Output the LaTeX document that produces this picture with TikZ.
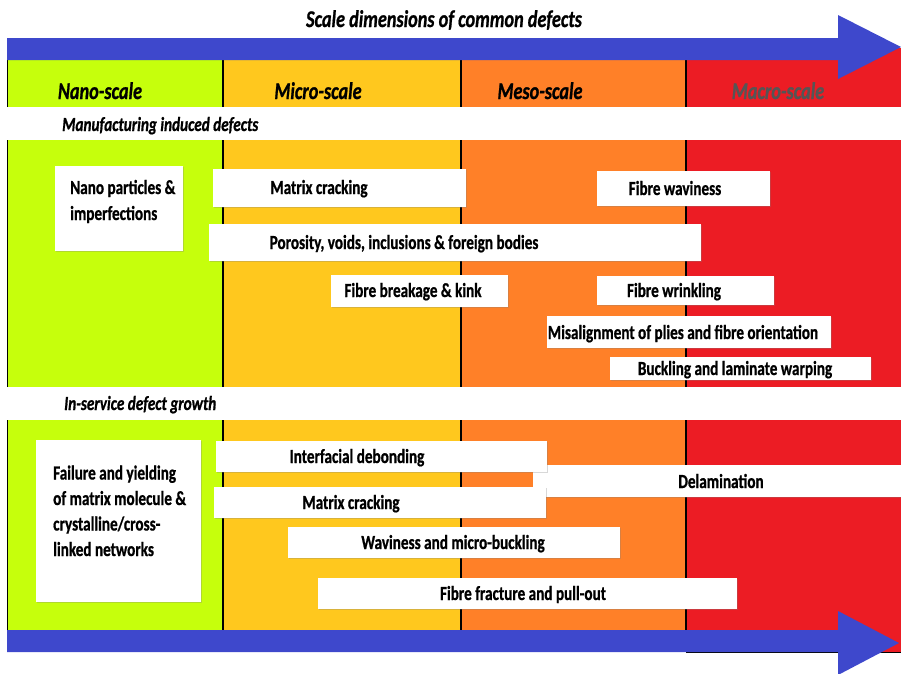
\documentclass[tikz,border=0pt]{standalone}
\usepackage{fontspec}
\setmainfont{Carlito}[FakeStretch=0.76, BoldFeatures={FakeBold=0.8}, BoldItalicFeatures={FakeBold=0.8}]
\usetikzlibrary{shadows,fit}
\definecolor{nano}{RGB}{198,255,12}
\definecolor{micro}{RGB}{255,200,30}
\definecolor{meso}{RGB}{255,128,40}
\definecolor{macro}{RGB}{236,28,36}
\definecolor{arrowblue}{RGB}{62,72,204}
\definecolor{macrotext}{RGB}{85,85,85}
\tikzset{
  box/.style={fill=white, draw=none, inner sep=0pt,
    drop shadow={shadow xshift=1.2pt, shadow yshift=-1.2pt, opacity=0.3}},
  lbl/.style={font=\bfseries\fontsize{20}{24}\selectfont, inner sep=0pt, anchor=base},
  lbll/.style={font=\bfseries\fontsize{20}{25.5}\selectfont, inner sep=0pt, anchor=base west, align=left},
  head/.style={font=\bfseries\itshape\fontsize{24}{28}\selectfont, inner sep=0pt, anchor=base},
  sect/.style={font=\bfseries\itshape\fontsize{20}{22}\selectfont, inner sep=0pt, anchor=base west},
  bigarrow/.style={fill=arrowblue, draw=none},
  colline/.style={line width=1.6pt, black}
}
\begin{document}
\begin{tikzpicture}[x=1pt,y=-1pt]
\useasboundingbox (0,0) rectangle (901,673);
% columns
\fill[nano]  (8,48) rectangle (223,630);
\fill[micro] (223,48) rectangle (461,630);
\fill[meso]  (461,48) rectangle (686,630);
\fill[macro] (686,48) rectangle (901,652);
\draw[line width=1pt] (686,652) -- (901,652);
\draw[colline] (7.5,60) -- (7.5,630);
\draw[colline] (223,60) -- (223,630);
\draw[colline] (461,60) -- (461,630);
\draw[colline] (686,60) -- (686,630);
% white bands
\fill[white] (0,107) rectangle (901,140);
\fill[white] (0,387) rectangle (901,420);
% arrows
\fill[bigarrow] (7,38) -- (838,38) -- (838,15) -- (901,47) -- (838,79) -- (838,60) -- (7,60) -- cycle;
\fill[bigarrow] (7,630) -- (838,630) -- (838,611) -- (899,643) -- (838,675) -- (838,652) -- (7,652) -- cycle;
% title and headers
\node[head] (title) at (444,27) {Scale dimensions of common defects};
\node[head] (hnano) at (100,99) {Nano-scale};
\node[head] (hmicro) at (318,99) {Micro-scale};
\node[head] (hmeso) at (540,99) {Meso-scale};
\node[head, text=macrotext] (hmacro) at (778,99) {Macro-scale};
\node[sect] (smfg) at (62,131) {Manufacturing induced defects};
\node[sect] (ssvc) at (64,410) {In-service defect growth};
% manufacturing boxes
\node[box, fit={(55,166) (183,251)}] (bnano) {};
\node[lbll, font=\bfseries\fontsize{20}{26}\selectfont] (tnano) at (70,220) {Nano particles \&\\imperfections};
\node[box, fit={(213,169) (466,207)}] (bmc) {};
\node[lbl] (tmc) at (319,194) {Matrix cracking};
\node[box, fit={(209,224) (701,261)}] (bpor) {};
\node[lbl] (tpor) at (404,249) {Porosity, voids, inclusions \& foreign bodies};
\node[box, fit={(331,275) (508,307)}] (bfbk) {};
\node[lbl] (tfbk) at (413,297) {Fibre breakage \& kink};
\node[box, fit={(597,171) (770,206)}] (bfw) {};
\node[lbl] (tfw) at (675,195) {Fibre waviness};
\node[box, fit={(597,276) (774,305)}] (bfwr) {};
\node[lbl] (tfwr) at (674,297) {Fibre wrinkling};
\node[box, fit={(547,316) (831,348)}] (bmis) {};
\node[lbl] (tmis) at (683,339) {Misalignment of plies and fibre orientation};
\node[box, fit={(610,357) (871,380)}] (bbuck) {};
\node[lbl] (tbuck) at (735,375) {Buckling and laminate warping};
% in-service boxes
\node[box, fit={(36,440) (201,602)}] (bfail) {};
\node[lbll] (tfail) at (53,556) {Failure and yielding\\of matrix molecule \&\\crystalline/cross-\\linked networks};
\node[box, fit={(533,465) (901,497)}] (bdel) {};
\node[lbl] (tdel) at (721,488) {Delamination};
\node[box, fit={(216,441) (547,472)}] (bint) {};
\node[lbl] (tint) at (357,463) {Interfacial debonding};
\node[box, fit={(214,487) (546,518)}] (bmc2) {};
\node[lbl] (tmc2) at (351,509) {Matrix cracking};
\node[box, fit={(288,527) (620,558)}] (bwav) {};
\node[lbl] (twav) at (453,549) {Waviness and micro-buckling};
\node[box, fit={(318,578) (737,609)}] (bff) {};
\node[lbl] (tff) at (523,600) {Fibre fracture and pull-out};
\end{tikzpicture}
\end{document}
